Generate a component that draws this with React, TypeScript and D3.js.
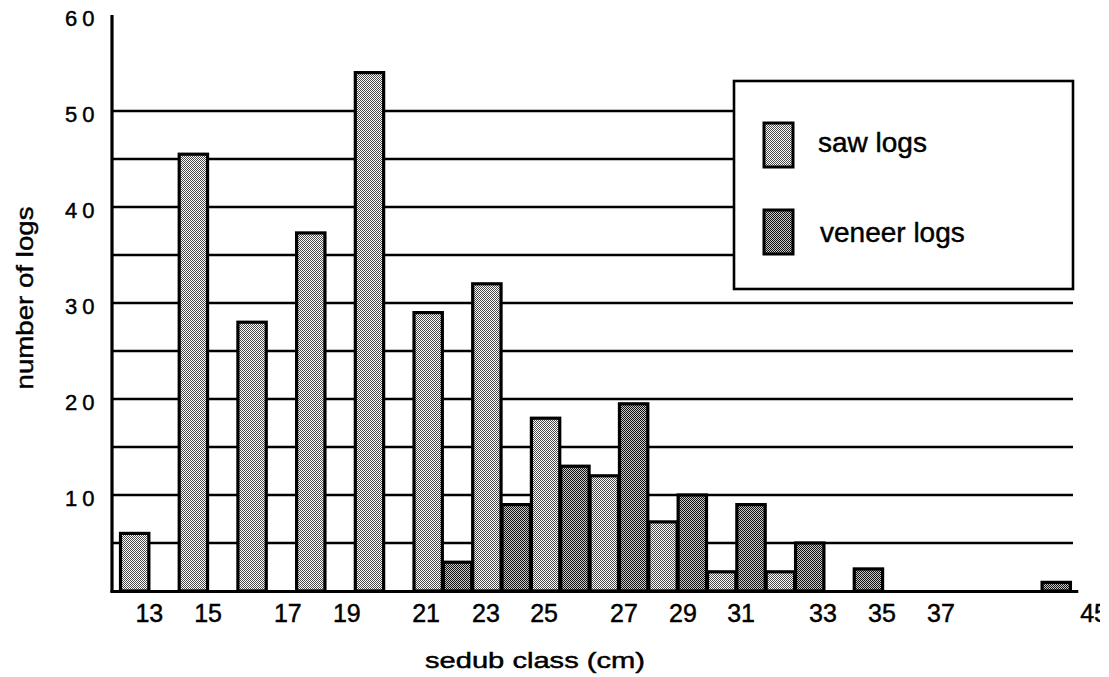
import React from "react";
import * as d3 from "d3";

// ---- data ----
// bar positions are given in "slot" units along the x axis (each slot = one bar width)
const sawSlots = [0, 2, 4, 6, 8, 10, 12, 14, 16, 18, 20, 22];
const sawValues = [6, 45.5, 28, 37.3, 54, 29, 32, 18, 12, 7.2, 2, 2];
const veneerSlots = [11, 13, 15, 17, 19, 21, 23, 25, 31.4];
const veneerValues = [3, 9, 13, 19.5, 10, 9, 5, 2.3, 0.9];

const xTickLabels = ["13", "15", "17", "19", "21", "23", "25", "27", "29", "31", "33", "35", "37", "45"];
const xTickSlots = [1, 3, 5.72, 7.73, 10.43, 12.47, 14.45, 17.17, 19.18, 21.16, 23.95, 25.96, 27.97, 33.19];
const yTickValues = [10, 20, 30, 40, 50, 60];
const gridValues = [5, 10, 15, 20, 25, 30, 35, 40, 45, 50];
const legendItems = ["saw logs", "veneer logs"];

const W = 1109;
const H = 677;
const FONT = "'Liberation Sans', Arial, Helvetica, sans-serif";

export default function App() {
  const x = d3.scaleLinear().domain([0, 32]).range([120, 1059.2]);
  const y = d3.scaleLinear().domain([0, 60]).range([591, 15]);
  const slotW = x(1) - x(0);
  const axisX = 112;
  const gridEnd = x(32.47);

  const saw = sawSlots.map((s, i) => ({ s, v: sawValues[i] }));
  const veneer = veneerSlots.map((s, i) => ({ s, v: veneerValues[i] }));

  const bar = (d: { s: number; v: number }, fill: string, key: string) => (
    <rect
      key={key}
      x={x(d.s) + 0.5}
      y={y(d.v)}
      width={slotW - 1}
      height={y(0) - y(d.v)}
      fill={fill}
      stroke="#000"
      strokeWidth={3.2}
    />
  );

  const legend = { x: 734, y: 81, w: 339, h: 208 };
  const txt = { fill: "#000", stroke: "#000", strokeWidth: 0.45 };

  return (
    <svg
      width={W}
      height={H}
      style={{ position: "absolute", left: 0, top: 0, background: "#fff" }}
      fontFamily={FONT}
    >
      <defs>
        <pattern id="sawPat" width={2} height={2} patternUnits="userSpaceOnUse">
          <rect width={2} height={2} fill="#ffffff" />
          <rect width={1} height={1} fill="#4a4a4a" />
          <rect x={1} y={1} width={1} height={1} fill="#4a4a4a" />
        </pattern>
        <pattern id="venPat" width={2} height={2} patternUnits="userSpaceOnUse">
          <rect width={2} height={2} fill="#c8c8c8" />
          <rect width={1} height={1} fill="#111" />
          <rect x={1} y={1} width={1} height={1} fill="#111" />
        </pattern>
        <clipPath id="pageClip">
          <rect x={0} y={0} width={1100} height={H} />
        </clipPath>
      </defs>
      <rect width={W} height={H} fill="#fff" />

      {/* gridlines */}
      {gridValues.map((g) => (
        <line key={"g" + g} x1={axisX} x2={gridEnd} y1={y(g)} y2={y(g)} stroke="#000" strokeWidth={2.4} />
      ))}

      {/* bars */}
      {saw.map((d, i) => bar(d, "url(#sawPat)", "s" + i))}
      {veneer.map((d, i) => bar(d, "url(#venPat)", "v" + i))}

      {/* axes */}
      <line x1={axisX} x2={axisX} y1={y(60)} y2={y(0) + 1.5} stroke="#000" strokeWidth={3.2} />
      <line x1={axisX - 1.5} x2={x(32.65)} y1={y(0) + 0.5} y2={y(0) + 0.5} stroke="#000" strokeWidth={3.2} />

      {/* y tick labels */}
      {yTickValues.map((v) => (
        <text key={"yt" + v} x={65} y={y(v) + 10.5} fontSize={22} letterSpacing={5} {...txt}>
          {String(v)}
        </text>
      ))}

      {/* x tick labels */}
      <g clipPath="url(#pageClip)">
        {xTickLabels.map((t, i) => (
          <text key={"xt" + i} x={x(xTickSlots[i])} y={622} fontSize={25} textAnchor="middle" {...txt}>
            {t}
          </text>
        ))}
      </g>

      {/* axis titles */}
      <text x={425} y={668} fontSize={22} textLength={220} lengthAdjust="spacingAndGlyphs" {...txt}>
        sedub class (cm)
      </text>
      <text
        transform="translate(33,298) rotate(-90)"
        fontSize={24}
        textAnchor="middle"
        textLength={183}
        lengthAdjust="spacingAndGlyphs"
        {...txt}
      >
        number of logs
      </text>

      {/* legend */}
      <rect x={legend.x} y={legend.y} width={legend.w} height={legend.h} fill="#fff" stroke="#000" strokeWidth={2.6} />
      {legendItems.map((name, i) => (
        <g key={"lg" + i}>
          <rect
            x={764}
            y={123 + i * 87}
            width={29}
            height={44}
            fill={i === 0 ? "url(#sawPat)" : "url(#venPat)"}
            stroke="#000"
            strokeWidth={3}
          />
          <text x={818 + i * 2} y={152 + i * 90} fontSize={28} {...txt}>
            {name}
          </text>
        </g>
      ))}
    </svg>
  );
}
